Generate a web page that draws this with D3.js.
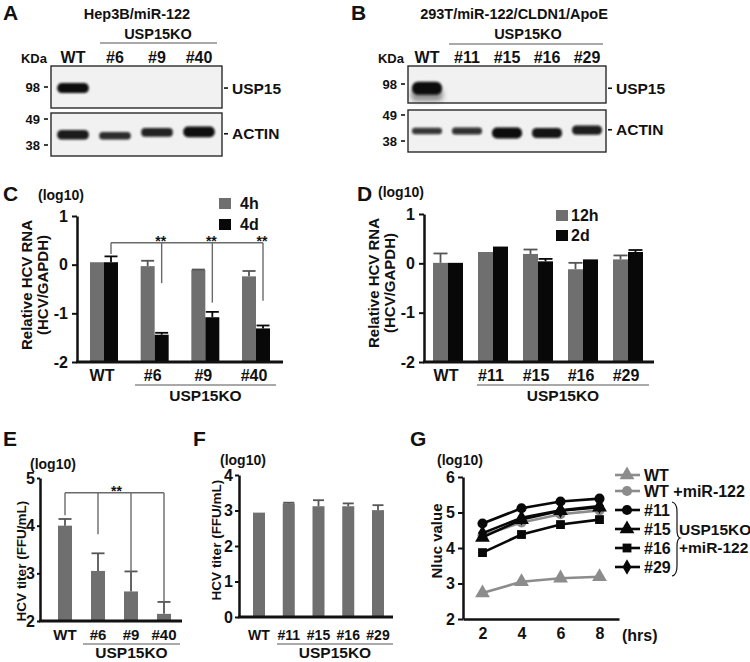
<!DOCTYPE html>
<html><head><meta charset="utf-8">
<script src="https://cdn.jsdelivr.net/npm/d3@7"></script>
<style>
body{margin:0;background:#fff}
svg{display:block}
text{font-family:"Liberation Sans",Arial,Helvetica,sans-serif;font-weight:bold;fill:#111}
</style></head><body>
<svg id="fig" width="750" height="662"></svg>
<script>
// ================= DATA =================
// Western blot A (Hep3B/miR-122)
const blotALanes = ["WT","#6","#9","#40"];
const blotAUsp15 = [1, 0, 0, 0];
const blotAActin = [0.75, 0.45, 0.6, 0.95];
const blotAActinKDa = [42, 41.6, 43, 43.2];
const blotAMarkersTop = [98];
const blotAMarkersBottom = [49, 38];
// Western blot B (293T/miR-122/CLDN1/ApoE)
const blotBLanes = ["WT","#11","#15","#16","#29"];
const blotBUsp15 = [1, 0, 0, 0, 0];
const blotBActin = [0.25, 0.35, 1.0, 0.85, 0.7];
const blotBActinKDa = [41.9, 41.9, 41.1, 41.1, 42.3];
const blotBMarkersTop = [98];
const blotBMarkersBottom = [49, 38];

// Panel C
const cGroups = ["WT","#6","#9","#40"];
const c4h    = [0.05, -0.03, -0.11, -0.24];
const c4hErr = [null, 0.08, -0.10, -0.13];
const c4d    = [0.05, -1.44, -1.08, -1.31];
const c4dErr = [0.17, -1.40, -0.97, -1.25];
const cTicks = [-2, -1, 0, 1];
const cSigLegEnds = [0.22, -0.38, -0.78, -0.74];

// Panel D
const dGroups = ["WT","#11","#15","#16","#29"];
const d12h    = [0.01, 0.23, 0.19, -0.12, 0.08];
const d12hErr = [0.20, null, 0.28, 0.01, 0.16];
const d2d     = [0.01, 0.34, 0.04, 0.08, 0.23];
const d2dErr  = [null, null, 0.09, null, 0.27];
const dTicks = [-2, -1, 0, 1];

// Panel E
const eGroups = ["WT","#6","#9","#40"];
const eTiter  = [4.0, 3.05, 2.62, 2.15];
const eErr    = [4.14, 3.42, 3.04, 2.40];
const eTicks  = [2, 3, 4, 5];
const eSigLegEnds = [4.22, 3.82, 3.0, 2.4];

// Panel F
const fGroups = ["WT","#11","#15","#16","#29"];
const fTiter  = [2.94, 3.20, 3.12, 3.12, 3.01];
const fErr    = [null, 3.22, 3.29, 3.20, 3.15];
const fTicks  = [0, 1, 2, 3, 4];

// Panel G
const gHours = [2, 4, 6, 8];
const gWT    = [2.73, 3.05, 3.15, 3.19];
const gWTmiR = [4.35, 4.72, 4.95, 5.06];
const g11    = [4.69, 5.12, 5.31, 5.39];
const g15    = [4.30, 4.80, 5.05, 5.15];
const g16    = [3.87, 4.38, 4.66, 4.80];
const g29    = [4.42, 4.85, 5.06, 5.18];
const gTicksY = [2, 3, 4, 5, 6];
const gSeriesNames = ["WT","WT +miR-122","#11","#15","#16","#29"];

// ================= DRAWING =================
const GREY = "#6f6f6f", BLACK = "#080808", LGREY = "#8c8c8c", INK = "#111";
const svg = d3.select("#fig");
const defs = svg.append("defs");
defs.append("filter").attr("id","blur").attr("x","-20%").attr("y","-50%").attr("width","140%").attr("height","200%")
  .append("feGaussianBlur").attr("stdDeviation", 1.1);
defs.append("filter").attr("id","blur2").attr("x","-20%").attr("y","-80%").attr("width","140%").attr("height","260%")
  .append("feGaussianBlur").attr("stdDeviation", 2.5);

function txt(g, x, y, s, size, anchor){
  return g.append("text").attr("x", x).attr("y", y).text(s)
    .style("font-size", size + "px").attr("text-anchor", anchor || "start");
}
function panelLetter(x, y, s){ txt(svg, x, y, s, 21, "start"); }

// ---------- Western blots ----------
function blot(o){
  const g = svg.append("g");
  const lx = d3.scalePoint().domain(o.lanes).range(o.laneRange);
  const step = lx.step();
  const kTop = d3.scaleLog().domain([98, 49]).range([o.top98, o.top98 + 70.8]);
  const kBot = d3.scaleLog().domain([49, 38]).range(o.bot4938);
  txt(g, o.titleX, 19, o.title, 14.5, "middle");
  txt(g, o.koX, 39, "USP15KO", 14.5, "middle");
  g.append("line").attr("x1", o.ul[0]).attr("x2", o.ul[1]).attr("y1", o.ulY).attr("y2", o.ulY)
    .attr("stroke", "#555").attr("stroke-width", 1.2);
  txt(g, o.kdaX, 63, "KDa", 13, "middle");
  o.lanes.forEach(l => txt(g, lx(l), 63, l, 16, "middle"));
  [o.topBox, o.botBox].forEach(yy => {
    g.append("rect").attr("x", o.boxX[0]).attr("y", yy[0]).attr("width", o.boxX[1] - o.boxX[0]).attr("height", yy[1] - yy[0])
      .attr("fill", "#f1f1f1").attr("stroke", "#2a2a2a").attr("stroke-width", 1.4);
  });
  const mk = (k, sc) => {
    const yy = sc(k);
    txt(g, o.boxX[0] - 11, yy + 5, String(k), 13, "end");
    g.append("line").attr("x1", o.boxX[0] - 7).attr("x2", o.boxX[0] - 3).attr("y1", yy).attr("y2", yy)
      .attr("stroke", INK).attr("stroke-width", 1.6);
  };
  o.markersTop.forEach(k => mk(k, kTop));
  o.markersBot.forEach(k => mk(k, kBot));
  const bw = step * 0.8;
  o.usp15.forEach((v, i) => {
    if (!v) return;
    const cy = kTop(o.uspKDa);
    if (o.smear) {
      g.append("rect").attr("x", lx(o.lanes[i]) - bw / 2).attr("y", cy).attr("width", bw).attr("height", 13)
        .attr("rx", 5).attr("fill", "#222").attr("opacity", 0.45).attr("filter", "url(#blur2)");
    }
    g.append("rect").attr("x", lx(o.lanes[i]) - bw / 2 + 1).attr("y", cy - o.uspH / 2).attr("width", bw - 2)
      .attr("height", o.uspH).attr("rx", o.uspH / 2.2).attr("fill", "#0a0a0a").attr("opacity", v)
      .attr("filter", "url(#blur)");
  });
  o.actin.forEach((v, i) => {
    const h = 5 + 6 * v;
    const cy = kBot(o.actinKDa[i]);
    g.append("rect").attr("x", lx(o.lanes[i]) - bw / 2 + 1).attr("y", cy - h / 2).attr("width", bw - 2)
      .attr("height", h).attr("rx", h / 2.2).attr("fill", "#0c0c0c").attr("opacity", 0.75 + 0.25 * v)
      .attr("filter", "url(#blur)");
  });
  const rx = o.boxX[1];
  [[kTop(o.uspKDa), "USP15"], [kBot(42) - 1, "ACTIN"]].forEach(([yy, s]) => {
    g.append("line").attr("x1", rx + 2).attr("x2", rx + 6).attr("y1", yy).attr("y2", yy).attr("stroke", INK).attr("stroke-width", 1.6);
    txt(g, rx + 10, yy + 5.5, s, 15.5, "start");
  });
}

blot({lanes: blotALanes, laneRange: [73, 199], title: "Hep3B/miR-122", titleX: 137, koX: 158,
  ul: [100, 217], ulY: 43, kdaX: 34, boxX: [51, 222], topBox: [66, 108], botBox: [113, 156],
  top98: 87, bot4938: [119, 145], markersTop: blotAMarkersTop, markersBot: blotAMarkersBottom,
  usp15: blotAUsp15, uspKDa: 97, uspH: 10, smear: false, actin: blotAActin, actinKDa: blotAActinKDa});
blot({lanes: blotBLanes, laneRange: [427, 587], title: "293T/miR-122/CLDN1/ApoE", titleX: 514, koX: 528,
  ul: [449, 603], ulY: 44, kdaX: 391, boxX: [408, 606], topBox: [66, 103], botBox: [110, 152],
  top98: 84, bot4938: [115, 141], markersTop: blotBMarkersTop, markersBot: blotBMarkersBottom,
  usp15: blotBUsp15, uspKDa: 94, uspH: 13, smear: true, actin: blotBActin, actinKDa: blotBActinKDa});

// ---------- bar panels ----------
function styleAxis(a){
  a.attr("font-family", null).attr("font-size", null);
  a.select(".domain").attr("stroke", INK).attr("stroke-width", 2.5);
  a.selectAll(".tick line").attr("stroke", INK).attr("stroke-width", 2);
  a.selectAll(".tick text").attr("fill", INK);
}
function barPanel(o){
  const g = svg.append("g");
  const y = d3.scaleLinear().domain(o.yDomain).range(o.yRange);
  const x = d3.scalePoint().domain(o.groups).range(o.xRange);
  const n = o.series.length;
  o.series.forEach((s, si) => {
    const off = (si - n / 2) * o.barW;
    g.append("g").selectAll("rect").data(s.values).join("rect")
      .attr("x", (d, i) => x(o.groups[i]) + off)
      .attr("y", d => y(d))
      .attr("width", o.barW)
      .attr("height", d => y(o.yDomain[0]) - y(d))
      .attr("fill", s.color);
    const eg = g.append("g").attr("stroke", s.errColor).attr("stroke-width", 1.8);
    s.errs.forEach((e, i) => {
      if (e == null) return;
      const cx = x(o.groups[i]) + off + o.barW / 2;
      eg.append("line").attr("x1", cx).attr("x2", cx).attr("y1", y(s.values[i])).attr("y2", y(e));
      eg.append("line").attr("x1", cx - o.barW / 2 + 0.5).attr("x2", cx + o.barW / 2 - 0.5).attr("y1", y(e)).attr("y2", y(e));
    });
  });
  const ax = d3.axisLeft(y).tickValues(o.ticks).tickSize(o.tickSize).tickSizeOuter(0).tickPadding(o.tickPad).tickFormat(d => String(d));
  const a = g.append("g").attr("transform", `translate(${o.xAxis[0]},0)`).call(ax);
  styleAxis(a);
  a.selectAll(".tick text").style("font-size", o.tickFont + "px");
  g.append("line").attr("x1", o.xAxis[0] - 1).attr("x2", o.xAxis[1]).attr("y1", y(o.yDomain[0])).attr("y2", y(o.yDomain[0]))
    .attr("stroke", INK).attr("stroke-width", 2.8);
  o.groups.forEach(gr => txt(g, x(gr) + o.labelShift, o.labelY, gr, o.labelFont, "middle"));
  g.append("line").attr("x1", o.ul[0]).attr("x2", o.ul[1]).attr("y1", o.ulY).attr("y2", o.ulY)
    .attr("stroke", "#555").attr("stroke-width", 1.2);
  txt(g, (o.ul[0] + o.ul[1]) / 2, o.ulY + o.koDy, "USP15KO", 15.5, "middle");
  txt(g, o.logPos[0], o.logPos[1], "(log10)", 14, "start");
  o.yTitles.forEach(([s, xx]) => {
    g.append("text").attr("transform", `translate(${xx},${o.yTitleY}) rotate(-90)`).attr("dy", "0.35em")
      .attr("text-anchor", "middle").style("font-size", o.yTitleFont + "px").text(s);
  });
  return {g, x, y};
}

function legendSquares(g, items, x, y0, dy, textX){
  items.forEach(([c, s], i) => {
    g.append("rect").attr("x", x).attr("y", y0 + i * dy).attr("width", 12).attr("height", 11).attr("fill", c);
    txt(g, textX, y0 + i * dy + 11, s, 16, "start");
  });
}

// Panel C
const C = barPanel({groups: cGroups, yDomain: [-2, 1], yRange: [362, 216], xRange: [104, 256], barW: 14,
  series: [{values: c4h, errs: c4hErr, color: GREY, errColor: "#555"},
           {values: c4d, errs: c4dErr, color: BLACK, errColor: BLACK}],
  ticks: cTicks, tickSize: 5, tickPad: 4, tickFont: 16, xAxis: [77, 283], labelY: 381, labelShift: -2, labelFont: 16,
  ul: [135, 276], ulY: 385, koDy: 16, logPos: [38, 200], yTitles: [["Relative HCV RNA", 27], ["(HCV/GAPDH)", 43]],
  yTitleY: 285, yTitleFont: 15});
legendSquares(C.g, [[GREY, "4h"], [BLACK, "4d"]], 219, 198, 21, 240);
{
  const bx = i => C.x(cGroups[i]) + 7;
  const by = C.y(0.45);
  const sg = C.g.append("g").attr("stroke", "#6a6a6a").attr("stroke-width", 1.4).attr("fill", "none");
  sg.append("line").attr("x1", bx(0)).attr("x2", bx(3)).attr("y1", by).attr("y2", by);
  cSigLegEnds.forEach((v, i) => sg.append("line").attr("x1", bx(i)).attr("x2", bx(i)).attr("y1", by).attr("y2", C.y(v)));
  [1, 2, 3].forEach(i => txt(C.g, bx(i) - 1, by + 3, "**", 14, "middle"));
}

// Panel D
const D = barPanel({groups: dGroups, yDomain: [-2, 1], yRange: [362, 214], xRange: [448, 628], barW: 15,
  series: [{values: d12h, errs: d12hErr, color: GREY, errColor: "#555"},
           {values: d2d, errs: d2dErr, color: BLACK, errColor: BLACK}],
  ticks: dTicks, tickSize: 5, tickPad: 4, tickFont: 16, xAxis: [424, 654], labelY: 381, labelShift: -2, labelFont: 16,
  ul: [477, 649], ulY: 385, koDy: 16, logPos: [378, 197], yTitles: [["Relative HCV RNA", 374], ["(HCV/GAPDH)", 390]],
  yTitleY: 283, yTitleFont: 15});
legendSquares(D.g, [[GREY, "12h"], [BLACK, " 2d"]], 556, 210, 20, 571);

// Panel E
const E = barPanel({groups: eGroups, yDomain: [2, 5], yRange: [621, 478], xRange: [65, 164], barW: 14,
  series: [{values: eTiter, errs: eErr, color: GREY, errColor: "#555"}],
  ticks: eTicks, tickSize: 3, tickPad: 2, tickFont: 16, xAxis: [40, 182], labelY: 640, labelShift: 0, labelFont: 15,
  ul: [83, 180], ulY: 644, koDy: 14, logPos: [30, 469], yTitles: [["HCV titer (FFU/mL)", 21]],
  yTitleY: 561, yTitleFont: 13.5});
{
  const bx = i => E.x(eGroups[i]);
  const by = E.y(4.69);
  const sg = E.g.append("g").attr("stroke", "#6a6a6a").attr("stroke-width", 1.4);
  sg.append("line").attr("x1", bx(0)).attr("x2", bx(3)).attr("y1", by).attr("y2", by);
  eSigLegEnds.forEach((v, i) => sg.append("line").attr("x1", bx(i)).attr("x2", bx(i)).attr("y1", by).attr("y2", E.y(v)));
  txt(E.g, (bx(1) + bx(2)) / 2 + 2, by + 3, "**", 14, "middle");
}

// Panel F
const F = barPanel({groups: fGroups, yDomain: [0, 4], yRange: [617, 475], xRange: [259, 378], barW: 12,
  series: [{values: fTiter, errs: fErr, color: GREY, errColor: "#555"}],
  ticks: fTicks, tickSize: 4, tickPad: 2, tickFont: 16, xAxis: [239, 393], labelY: 640, labelShift: 0, labelFont: 14,
  ul: [277, 393], ulY: 644, koDy: 14, logPos: [220, 465], yTitles: [["HCV titer (FFU/mL)", 216]],
  yTitleY: 540, yTitleFont: 13.5});

// ---------- Panel G ----------
{
  const g = svg.append("g");
  const x = d3.scaleLinear().domain([1, 9]).range([463, 619]);
  const y = d3.scaleLinear().domain([2, 6]).range([619, 477]);
  const ay = g.append("g").attr("transform", "translate(463,0)")
    .call(d3.axisLeft(y).tickValues(gTicksY).tickSize(5).tickSizeOuter(0).tickPadding(3).tickFormat(d => String(d)));
  styleAxis(ay); ay.selectAll(".tick text").style("font-size", "16px");
  const ax = g.append("g").attr("transform", "translate(0,619)")
    .call(d3.axisBottom(x).tickValues(gHours).tickSize(0).tickSizeOuter(0).tickPadding(9).tickFormat(d => String(d)));
  styleAxis(ax); ax.selectAll(".tick text").style("font-size", "16px");
  txt(g, 622, 641, "(hrs)", 16, "start");
  txt(g, 437, 465, "(log10)", 14, "start");
  g.append("text").attr("transform", "translate(437,541) rotate(-90)").attr("dy", "0.35em")
    .attr("text-anchor", "middle").style("font-size", "15px").text("Nluc value");

  const series = [
    {vals: gWT, color: LGREY, sym: d3.symbolTriangle, size: 95},
    {vals: gWTmiR, color: LGREY, sym: d3.symbolCircle, size: 80},
    {vals: g11, color: BLACK, sym: d3.symbolCircle, size: 80},
    {vals: g15, color: BLACK, sym: d3.symbolTriangle, size: 95},
    {vals: g16, color: BLACK, sym: d3.symbolSquare, size: 78},
    {vals: g29, color: BLACK, sym: d3.symbolDiamond, size: 70}
  ];
  const line = d3.line().x((d, i) => x(gHours[i])).y(d => y(d));
  const order = [0, 1, 4, 3, 5, 2];
  order.forEach(k => {
    const s = series[k];
    g.append("path").attr("d", line(s.vals)).attr("fill", "none").attr("stroke", s.color).attr("stroke-width", 2.6);
    g.append("g").selectAll("path").data(s.vals).join("path")
      .attr("transform", (d, i) => `translate(${x(gHours[i])},${y(d)})`)
      .attr("d", d3.symbol().type(s.sym).size(s.size)).attr("fill", s.color);
  });
  const ly = [475, 491, 510, 529, 548, 567];
  series.forEach((s, i) => {
    g.append("line").attr("x1", 615).attr("x2", 640).attr("y1", ly[i]).attr("y2", ly[i])
      .attr("stroke", s.color).attr("stroke-width", 2.6);
    g.append("path").attr("transform", `translate(627,${ly[i]})`).attr("d", d3.symbol().type(s.sym).size(s.size)).attr("fill", s.color);
    txt(g, 644, ly[i] + 6, gSeriesNames[i], 16, "start");
  });
  g.append("path").attr("d", "M672,502 Q677,503 677,512 L677,530 Q677,537 680,538 Q677,539 677,546 L677,566 Q677,575 672,576")
    .attr("fill", "none").attr("stroke", INK).attr("stroke-width", 1.2);
  txt(g, 679, 535, "USP15KO", 15.5, "start");
  txt(g, 679, 553, "+miR-122", 15.5, "start");
}

// panel letters
panelLetter(3, 20, "A"); panelLetter(351, 20, "B");
panelLetter(3, 201, "C"); panelLetter(357, 201, "D");
panelLetter(3, 446, "E"); panelLetter(193, 446, "F"); panelLetter(410, 446, "G");
</script>
</body></html>
